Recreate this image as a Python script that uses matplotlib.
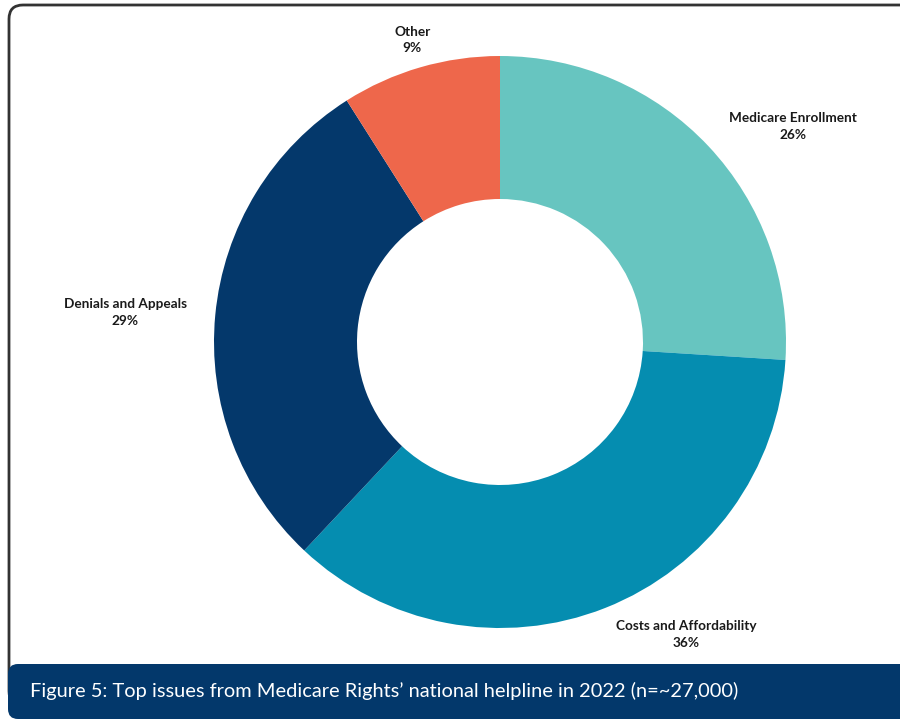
import matplotlib.pyplot as plt
from matplotlib.patches import FancyBboxPatch

plt.rcParams['font.family'] = ['Lato', 'DejaVu Sans']

# Top helpline issues, share of calls (%)
issues = ['Medicare Enrollment', 'Costs and Affordability', 'Denials and Appeals', 'Other']
shares = [26, 36, 29, 9]
colors = ['#67C5C0', '#058DB0', '#04386B', '#EE674B']
caption = 'Figure 5: Top issues from Medicare Rights\u2019 national helpline in 2022 (n=~27,000)'

W, H = 900, 721
fig = plt.figure(figsize=(W / 100, H / 100), dpi=100)

# background layer in pixel units: rounded frame + caption bar
bg = fig.add_axes([0, 0, 1, 1])
bg.set_xlim(0, W)
bg.set_ylim(H, 0)
bg.axis('off')
frame = FancyBboxPatch((9, 5), 940, 700, boxstyle='round,pad=0,rounding_size=14',
                       facecolor='white', edgecolor='#333333', linewidth=2)
bg.add_patch(frame)
bar = FancyBboxPatch((8, 664), 950, 55, boxstyle='round,pad=0,rounding_size=10',
                     facecolor='#03386B', edgecolor='none')
bg.add_patch(bar)
bg.text(30, 691, caption, color='white', fontsize=14.4, va='center', ha='left')

# donut: 1 data unit = 286 px, centred at (500, 342) px
R = 286.0
cx, cy = 500.0, 342.0
ax = fig.add_axes([0, 0, 1, 1])
ax.patch.set_alpha(0)
labels = [f'{name}\n{v}%' for name, v in zip(issues, shares)]
wedges, texts = ax.pie(shares, labels=labels, colors=colors, startangle=90,
                       counterclock=False, labeldistance=1.1,
                       wedgeprops=dict(width=0.5, linewidth=0),
                       textprops=dict(fontsize=9.8, fontweight='bold', color='#1a1a1a',
                                      multialignment='center', linespacing=1.45))
for t in texts:
    x, y = t.get_position()
    if abs(x) < 0.35:
        t.set_ha('center')
ax.set_aspect('auto')
ax.set_xlim(-cx / R, (W - cx) / R)
ax.set_ylim((cy - H) / R, cy / R)
ax.axis('off')

fig.savefig('out.png', dpi=100)
